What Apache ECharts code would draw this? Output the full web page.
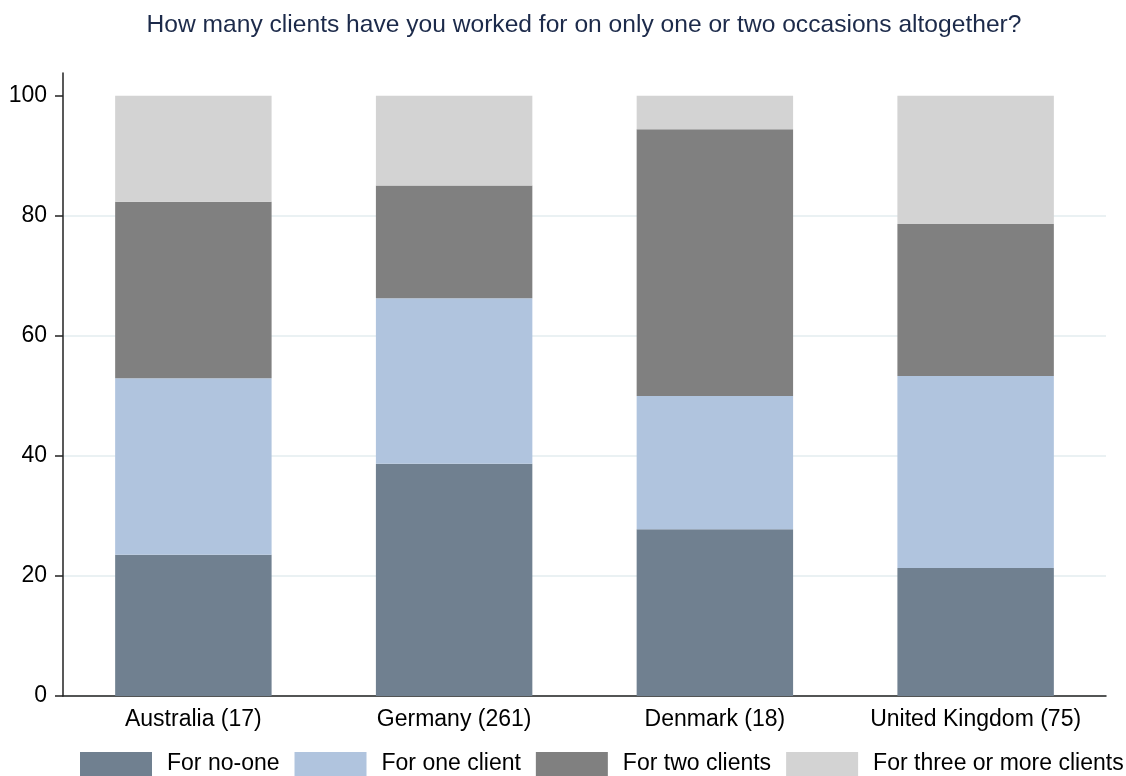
<!DOCTYPE html>
<html>
<head>
<meta charset="utf-8">
<style>
  html, body { margin: 0; padding: 0; background: #ffffff; }
  #chart { width: 1126px; height: 776px; }
</style>
<script src="https://cdn.jsdelivr.net/npm/echarts@6/dist/echarts.min.js"></script>
</head>
<body>
<div id="chart"></div>
<script>
// Countries with number of respondents
const categories = ['Australia (17)', 'Germany (261)', 'Denmark (18)', 'United Kingdom (75)'];

// Share of respondents (%) for each answer
const forNoOne        = [23.53, 38.70, 27.78, 21.33];
const forOneClient    = [29.41, 27.59, 22.22, 32.00];
const forTwoClients   = [29.41, 18.77, 44.44, 25.33];
const forThreeOrMore  = [17.65, 14.94,  5.56, 21.33];

const yTicks = [0, 20, 40, 60, 80, 100];

const seriesDefs = [
  { name: 'For no-one', data: forNoOne, color: '#708090' },
  { name: 'For one client', data: forOneClient, color: '#b0c4de' },
  { name: 'For two clients', data: forTwoClients, color: '#808080' },
  { name: 'For three or more clients', data: forThreeOrMore, color: '#d3d3d3' }
];

const font = 'Arial, "Liberation Sans", sans-serif';

const chart = echarts.init(document.getElementById('chart'), null, { renderer: 'canvas' });

chart.setOption({
  animation: false,
  backgroundColor: '#ffffff',
  title: {
    text: 'How many clients have you worked for on only one or two occasions altogether?',
    left: 584,
    textAlign: 'center',
    top: 13,
    padding: 0,
    textStyle: { fontFamily: font, fontSize: 24.6, fontWeight: 'normal', color: '#1c2a4a' }
  },
  legend: {
    left: 80,
    bottom: 0,
    padding: 0,
    itemWidth: 72,
    itemHeight: 24,
    itemGap: 15,
    icon: 'rect',
    textStyle: { fontFamily: font, fontSize: 23, color: '#000000', padding: [12, 0, 0, 10] },
    data: seriesDefs.map(s => s.name)
  },
  grid: { left: 63, right: 20, top: 73, bottom: 80, containLabel: false },
  xAxis: {
    type: 'category',
    data: categories,
    axisLine: { show: true, lineStyle: { color: '#222222', width: 1.5 } },
    axisTick: { show: false },
    axisLabel: { interval: 0, fontFamily: font, fontSize: 23, color: '#000000', margin: 12 }
  },
  yAxis: {
    type: 'value',
    min: 0,
    max: 103.8,
    axisLine: { show: true, lineStyle: { color: '#222222', width: 1.5 } },
    axisTick: { show: true, length: 8, customValues: yTicks, lineStyle: { color: '#222222', width: 1.5 } },
    axisLabel: { fontFamily: font, fontSize: 23, color: '#000000', margin: 16, customValues: yTicks },
    splitLine: { show: true, showMaxLine: false, lineStyle: { color: '#eaf1f3', width: 2 } }
  },
  series: seriesDefs.map(s => ({
    name: s.name,
    type: 'bar',
    stack: 'total',
    barWidth: '60%',
    data: s.data,
    itemStyle: { color: s.color },
    emphasis: { disabled: true }
  }))
});
</script>
</body>
</html>
